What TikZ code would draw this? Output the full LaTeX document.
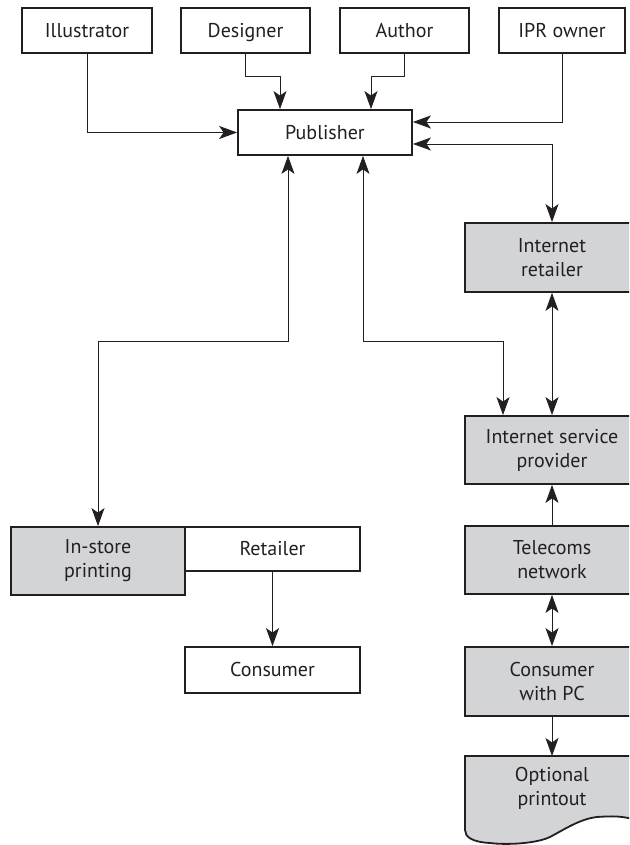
\documentclass[tikz,border=0pt]{standalone}
\usepackage{fontspec}
\setmainfont{PT Sans}
\usetikzlibrary{arrows.meta,calc}
\definecolor{ink}{HTML}{231F20}
\definecolor{boxgray}{HTML}{D3D4D6}
\tikzset{
  stepbox/.style={draw=ink, line width=1.8pt, fill=white, text=ink,
    minimum height=45pt, align=center, font=\fontsize{20}{24}\selectfont,
    inner sep=0pt},
  oneline/.style={stepbox, text height=17pt, text depth=3pt},
  graybox/.style={stepbox, fill=boxgray, minimum height=68pt, minimum width=174pt},
  link/.style={draw=ink, line width=0.9pt},
  tip/.tip={Stealth[length=18pt,width=13pt,inset=4.5pt]},
  fwd/.style={link, -tip},
  both/.style={link, tip-tip},
}
\begin{document}
\begin{tikzpicture}[x=1pt,y=1pt]
\useasboundingbox (0,0) rectangle (629,845);
\clip (0,0) rectangle (629,845);

% contributors
\node[oneline, minimum width=130pt] (illustrator) at (87,814.5) {Illustrator};
\node[oneline, minimum width=129pt] (designer) at (245.5,814.5) {Designer};
\node[oneline, minimum width=129pt] (author) at (404.5,814.5) {Author};
\node[oneline, minimum width=126pt] (ipr) at (562,814.5) {IPR owner};

\node[oneline, minimum width=174pt] (publisher) at (325,712.5) {Publisher};

% electronic channel
\node[graybox, minimum height=69pt] (iretailer) at (552,587.5) {Internet\\retailer};
\node[graybox] (isp) at (552,395) {Internet service\\provider};
\node[graybox] (telecoms) at (552,285) {Telecoms\\network};
\node[graybox, minimum height=69pt] (pc) at (552,163.5) {Consumer\\with PC};

% printout (document shape)
\coordinate (ptop) at (552,89);
\path[draw=ink, line width=1.8pt, fill=boxgray]
  (465,89) -- (645,89) -- (645,20)
  .. controls (630,30) and (612,29) .. (597,28)
  .. controls (580,26) and (565,16) .. (550,8)
  .. controls (535,1) and (505,0) .. (490,2)
  .. controls (472,3) and (465,8) .. (465,15) -- cycle;
\node[align=center, text=ink, font=\fontsize{20}{24}\selectfont, inner sep=0pt]
  (printout) at (552,57) {Optional\\printout};

% retail channel
\node[graybox] (instore) at (98,284) {In-store\\printing};
\node[oneline, minimum width=175pt, minimum height=44pt] (retailer) at (272.5,296) {Retailer};
\node[oneline, minimum width=175pt, minimum height=46pt] (consumer) at (272.5,175) {Consumer};

% contributions to the publisher
\draw[fwd] (illustrator.south) |- (publisher.west);
\draw[fwd] (designer.south) -- ++(0,-23) -| ($(publisher.north)+(-45,0)$);
\draw[fwd] (author.south) -- ++(0,-23) -| ($(publisher.north)+(46,0)$);
\draw[fwd] (ipr.south) |- ($(publisher.east)+(0,10.5)$);

% distribution
\draw[both] ($(publisher.east)+(0,-11.5)$) -| (iretailer.north);
\draw[both] ($(publisher.south)+(-37,0)$) -- ++(0,-186) -| (instore.north);
\draw[both] ($(publisher.south)+(38,0)$) -- ++(0,-186) -| ($(isp.north)+(-49,0)$);
\draw[both] (iretailer.south) -- (isp.north);
\draw[fwd] (telecoms.north) -- (isp.south);
\draw[both] (telecoms.south) -- (pc.north);
\draw[fwd] (pc.south) -- (ptop);
\draw[fwd] (retailer.south) -- (consumer.north);
\end{tikzpicture}
\end{document}
